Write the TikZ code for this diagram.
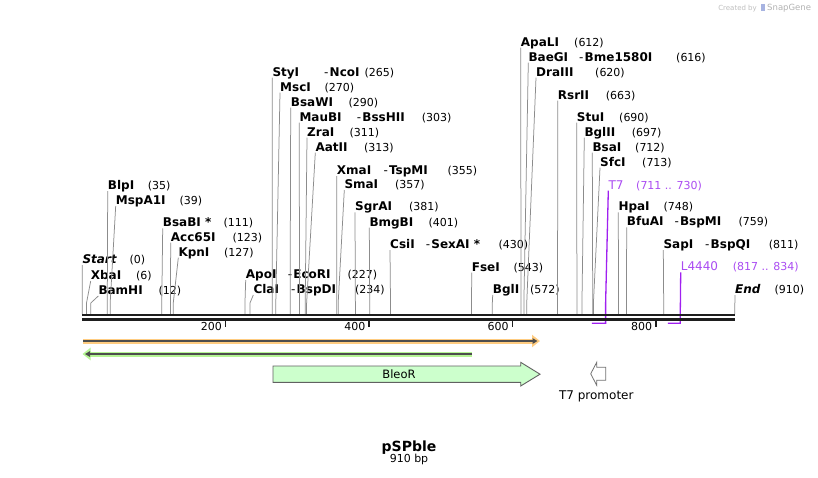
\documentclass[tikz,border=0pt]{standalone}
\usepackage{fontspec}
\setmainfont{DejaVu Sans}[BoldFont={DejaVu Sans Bold}, ItalicFont={DejaVu Sans Oblique}, BoldItalicFont={DejaVu Sans Bold Oblique}]
\usetikzlibrary{arrows.meta}

\definecolor{cutline}{HTML}{8C8C8C}
\definecolor{featline}{HTML}{A020F0}
\definecolor{feattext}{HTML}{AA4CF2}
\definecolor{orfhalo}{HTML}{FFCC80}
\definecolor{revhalo}{HTML}{B5F594}
\definecolor{orfdark}{HTML}{4D4D4D}
\definecolor{bleofill}{HTML}{CCFFCC}
\definecolor{backbone}{HTML}{1E1E1E}
\newcommand{\bp}[1]{82.2+0.717*#1}

\begin{document}
\begin{tikzpicture}[x=1pt, y=-1pt,
    enz/.style     = {anchor=base west, inner xsep=0pt, inner ysep=1.5pt, text depth=0pt, font=\fontsize{12}{14}\selectfont\bfseries},
    num/.style     = {anchor=base west, inner sep=0pt, font=\fontsize{11}{13}\selectfont},
    ends/.style    = {enz, font=\fontsize{12}{14}\selectfont\bfseries\itshape},
    feat/.style    = {enz, font=\fontsize{12}{14}\selectfont, text=feattext},
    featnum/.style = {num, text=feattext},
    cut/.style     = {draw=cutline, line width=0.75pt},
    featcut/.style = {draw=featline, line width=1.3pt},
    orfglow/.style = {draw=#1, line width=5pt, -{Triangle[length=8pt,width=12pt]}},
    orfline/.style = {draw=orfdark, line width=1.4pt, -{Triangle[length=5pt,width=5.5pt]}}]
    \path [fill=white] (0,0) rectangle (818,477);
    \useasboundingbox (0,0) rectangle (818,477);

    % Sites on the sequence
    \coordinate (start-s)  at ({\bp{0}},314);
    \coordinate (xbai-s)   at ({\bp{6}},314);
    \coordinate (bamhi-s)  at ({\bp{12}},314);
    \coordinate (blpi-s)   at ({\bp{35}},314);
    \coordinate (mspa1i-s) at ({\bp{39}},314);
    \coordinate (bsabi-s)  at ({\bp{111}},314);
    \coordinate (acc65i-s) at ({\bp{123}},314);
    \coordinate (kpni-s)   at ({\bp{127}},314);
    \coordinate (apoi-s)   at ({\bp{227}},314);
    \coordinate (clai-s)   at ({\bp{234}},314);
    \coordinate (styi-s)   at ({\bp{265}},314);
    \coordinate (msci-s)   at ({\bp{270}},314);
    \coordinate (bsawi-s)  at ({\bp{290}},314);
    \coordinate (maubi-s)  at ({\bp{303}},314);
    \coordinate (zrai-s)   at ({\bp{311}},314);
    \coordinate (aatii-s)  at ({\bp{313}},314);
    \coordinate (xmai-s)   at ({\bp{355}},314);
    \coordinate (smai-s)   at ({\bp{357}},314);
    \coordinate (sgrai-s)  at ({\bp{381}},314);
    \coordinate (bmgbi-s)  at ({\bp{401}},314);
    \coordinate (csii-s)   at ({\bp{430}},314);
    \coordinate (fsei-s)   at ({\bp{543}},314);
    \coordinate (bgli-s)   at ({\bp{572}},314);
    \coordinate (apali-s)  at ({\bp{612}},314);
    \coordinate (baegi-s)  at ({\bp{616}},314);
    \coordinate (draiii-s) at ({\bp{620}},314);
    \coordinate (rsrii-s)  at ({\bp{663}},314);
    \coordinate (stui-s)   at ({\bp{690}},314);
    \coordinate (bglii-s)  at ({\bp{697}},314);
    \coordinate (bsai-s)   at ({\bp{712}},314);
    \coordinate (sfci-s)   at ({\bp{713}},314);
    \coordinate (hpai-s)   at ({\bp{748}},314);
    \coordinate (bfuai-s)  at ({\bp{759}},314);
    \coordinate (sapi-s)   at ({\bp{811}},314);
    \coordinate (stop-s)   at ({\bp{910}},314);
    \coordinate (t7-a)     at ({\bp{711}},323.3);
    \coordinate (t7-b)     at ({\bp{730}},323.3);
    \coordinate (l4440-a)  at ({\bp{817}},323.3);
    \coordinate (l4440-b)  at ({\bp{834}},323.3);

    % Labels {name, second name, number}
    \node [ends] (start)    at (82.3,263.3)  {Start};
    \node [num]  (start-n)  at (129.3,263.3) {(0)};
    \node [enz]  (xbai)     at (90.7,279.3)  {XbaI};
    \node [num]  (xbai-n)   at (136,279.3)   {(6)};
    \node [enz]  (bamhi)    at (98.3,294.3)  {BamHI};
    \node [num]  (bamhi-n)  at (158.3,294.3) {(12)};
    \node [enz]  (blpi)     at (107.7,189.3) {BlpI};
    \node [num]  (blpi-n)   at (147.7,189.3) {(35)};
    \node [enz]  (mspa1i)   at (115.7,204.3) {MspA1I};
    \node [num]  (mspa1i-n) at (179.3,204.3) {(39)};
    \node [enz]  (bsabi)    at (162.7,226.7) {BsaBI *};
    \node [num]  (bsabi-n)  at (223.3,226.7) {(111)};
    \node [enz]  (acc65i)   at (170.7,241)   {Acc65I};
    \node [num]  (acc65i-n) at (232.3,241)   {(123)};
    \node [enz]  (kpni)     at (178.3,256)   {KpnI};
    \node [num]  (kpni-n)   at (224,256)     {(127)};
    \node [enz]  (apoi)     at (245.7,278.3) {ApoI};
    \node [enz]  (apoi-2)   at (287.7,278.3) {\mdseries-\hspace{1.2pt}\bfseries EcoRI};
    \node [num]  (apoi-n)   at (347.3,278.3) {(227)};
    \node [enz]  (clai)     at (253.3,293.3) {ClaI};
    \node [enz]  (clai-2)   at (291,293.3)   {\mdseries-\hspace{1.2pt}\bfseries BspDI};
    \node [num]  (clai-n)   at (355,293.3)   {(234)};
    \node [enz]  (styi)     at (272.3,76)    {StyI};
    \node [enz]  (styi-2)   at (324,76)      {\mdseries-\hspace{1.2pt}\bfseries NcoI};
    \node [num]  (styi-n)   at (364.3,76)    {(265)};
    \node [enz]  (msci)     at (280,91)      {MscI};
    \node [num]  (msci-n)   at (324.3,91)    {(270)};
    \node [enz]  (bsawi)    at (290.7,106)   {BsaWI};
    \node [num]  (bsawi-n)  at (348.3,106)   {(290)};
    \node [enz]  (maubi)    at (299.3,121)   {MauBI};
    \node [enz]  (maubi-2)  at (356.7,121)   {\mdseries-\hspace{1.2pt}\bfseries BssHII};
    \node [num]  (maubi-n)  at (421.7,121)   {(303)};
    \node [enz]  (zrai)     at (307,136)     {ZraI};
    \node [num]  (zrai-n)   at (349.3,136)   {(311)};
    \node [enz]  (aatii)    at (315.3,151)   {AatII};
    \node [num]  (aatii-n)  at (364,151)     {(313)};
    \node [enz]  (xmai)     at (336.7,174.3) {XmaI};
    \node [enz]  (xmai-2)   at (383.3,174.3) {\mdseries-\hspace{1.2pt}\bfseries TspMI};
    \node [num]  (xmai-n)   at (447.3,174.3) {(355)};
    \node [enz]  (smai)     at (344.3,188.3) {SmaI};
    \node [num]  (smai-n)   at (395,188.3)   {(357)};
    \node [enz]  (sgrai)    at (355,210.7)   {SgrAI};
    \node [num]  (sgrai-n)  at (409,210.7)   {(381)};
    \node [enz]  (bmgbi)    at (369.3,226)   {BmgBI};
    \node [num]  (bmgbi-n)  at (428.3,226)   {(401)};
    \node [enz]  (csii)     at (390,248.3)   {CsiI};
    \node [enz]  (csii-2)   at (425.7,248.3) {\mdseries-\hspace{1.2pt}\bfseries SexAI *};
    \node [num]  (csii-n)   at (498.3,248.3) {(430)};
    \node [enz]  (fsei)     at (471.7,271)   {FseI};
    \node [num]  (fsei-n)   at (513.3,271)   {(543)};
    \node [enz]  (bgli)     at (492.7,293.3) {BglI};
    \node [num]  (bgli-n)   at (530,293.3)   {(572)};
    \node [enz]  (apali)    at (520.7,46)    {ApaLI};
    \node [num]  (apali-n)  at (574,46)      {(612)};
    \node [enz]  (baegi)    at (528.3,61)    {BaeGI};
    \node [enz]  (baegi-2)  at (579,61)      {\mdseries-\hspace{1.2pt}\bfseries Bme1580I};
    \node [num]  (baegi-n)  at (676,61)      {(616)};
    \node [enz]  (draiii)   at (536,76)      {DraIII};
    \node [num]  (draiii-n) at (595,76)      {(620)};
    \node [enz]  (rsrii)    at (557.7,99)    {RsrII};
    \node [num]  (rsrii-n)  at (605.7,99)    {(663)};
    \node [enz]  (stui)     at (576.7,121)   {StuI};
    \node [num]  (stui-n)   at (619,121)     {(690)};
    \node [enz]  (bglii)    at (584.3,136)   {BglII};
    \node [num]  (bglii-n)  at (631.7,136)   {(697)};
    \node [enz]  (bsai)     at (592.3,151)   {BsaI};
    \node [num]  (bsai-n)   at (635,151)     {(712)};
    \node [enz]  (sfci)     at (600,166)     {SfcI};
    \node [num]  (sfci-n)   at (642,166)     {(713)};
    \node [feat] (t7)       at (608.3,189)   {T7};
    \node [featnum] (t7-n)  at (636,189)     {(711 .. 730)};
    \node [enz]  (hpai)     at (618.3,210.7) {HpaI};
    \node [num]  (hpai-n)   at (663.3,210.7) {(748)};
    \node [enz]  (bfuai)    at (626.7,225.7) {BfuAI};
    \node [enz]  (bfuai-2)  at (674.3,225.7) {\mdseries-\hspace{1.2pt}\bfseries BspMI};
    \node [num]  (bfuai-n)  at (738.3,225.7) {(759)};
    \node [enz]  (sapi)     at (663.3,248.3) {SapI};
    \node [enz]  (sapi-2)   at (705,248.3)   {\mdseries-\hspace{1.2pt}\bfseries BspQI};
    \node [num]  (sapi-n)   at (768.7,248.3) {(811)};
    \node [feat] (l4440)    at (680.7,270.7) {L4440};
    \node [featnum] (l4440-n) at (732.7,270.7) {(817 .. 834)};
    \node [ends] (stop)     at (735,293.3)   {End};
    \node [num]  (stop-n)   at (774.3,293.3) {(910)};

    % Cut lines
    \draw [cut] (start-s)  -- (start.south west);
    \draw [cut] (xbai-s)   -- ++(0,-11) -- (xbai.south west);
    \draw [cut] (bamhi-s)  -- ++(0,-11) -- (bamhi.south west);
    \draw [cut] (blpi-s)   -- ++(0,-11) -- (blpi.south west);
    \draw [cut] (mspa1i-s) -- ++(0,-11) -- (mspa1i.south west);
    \draw [cut] (bsabi-s)  -- ++(0,-11) -- (bsabi.south west);
    \draw [cut] (acc65i-s) -- ++(0,-11) -- (acc65i.south west);
    \draw [cut] (kpni-s)   -- ++(0,-11) -- (kpni.south west);
    \draw [cut] (apoi-s)   -- ++(0,-11) -- (apoi.south west);
    \draw [cut] (clai-s)   -- ++(0,-11) -- (clai.south west);
    \draw [cut] (styi-s)   -- ++(0,-11) -- (styi.south west);
    \draw [cut] (msci-s)   -- ++(0,-11) -- (msci.south west);
    \draw [cut] (bsawi-s)  -- ++(0,-11) -- (bsawi.south west);
    \draw [cut] (maubi-s)  -- ++(0,-11) -- (maubi.south west);
    \draw [cut] (zrai-s)   -- ++(0,-11) -- (zrai.south west);
    \draw [cut] (aatii-s)  -- ++(0,-11) -- (aatii.south west);
    \draw [cut] (xmai-s)   -- ++(0,-11) -- (xmai.south west);
    \draw [cut] (smai-s)   -- ++(0,-11) -- (smai.south west);
    \draw [cut] (sgrai-s)  -- ++(0,-11) -- (sgrai.south west);
    \draw [cut] (bmgbi-s)  -- ++(0,-11) -- (bmgbi.south west);
    \draw [cut] (csii-s)   -- ++(0,-11) -- (csii.south west);
    \draw [cut] (fsei-s)   -- ++(0,-11) -- (fsei.south west);
    \draw [cut] (bgli-s)   -- ++(0,-11) -- (bgli.south west);
    \draw [cut] (apali-s)  -- ++(0,-11) -- (apali.south west);
    \draw [cut] (baegi-s)  -- ++(0,-11) -- (baegi.south west);
    \draw [cut] (draiii-s) -- ++(0,-11) -- (draiii.south west);
    \draw [cut] (rsrii-s)  -- ++(0,-11) -- (rsrii.south west);
    \draw [cut] (stui-s)   -- ++(0,-11) -- (stui.south west);
    \draw [cut] (bglii-s)  -- ++(0,-11) -- (bglii.south west);
    \draw [cut] (bsai-s)   -- ++(0,-11) -- (bsai.south west);
    \draw [cut] (sfci-s)   -- ++(0,-11) -- (sfci.south west);
    \draw [cut] (hpai-s)   -- ++(0,-11) -- (hpai.south west);
    \draw [cut] (bfuai-s)  -- ++(0,-11) -- (bfuai.south west);
    \draw [cut] (sapi-s)   -- ++(0,-11) -- (sapi.south west);
    \draw [cut] (stop-s)   -- (stop.south west);

    % Features on the sequence
    \draw [featcut] (t7-a) -- (t7-b) -- ++(0,-20) -- (t7.south west);
    \draw [featcut] (l4440-a) -- (l4440-b) -- (l4440.south west);

    % Sequence and scale
    \coordinate (seq-a) at (82.2,315.2);
    \coordinate (seq-b) at (734.7,315.2);
    \coordinate (seq-c) at (82.2,319.6);
    \coordinate (seq-d) at (734.7,319.6);
    \draw [backbone, line width=2.4pt] (seq-a) -- (seq-b);
    \draw [backbone, line width=2.4pt] (seq-c) -- (seq-d);
    \foreach \t in {200,400,600,800} {
        \draw [backbone, line width=1.5pt] ({\bp{\t}},320) -- ({\bp{\t}},327);
        \node [num, anchor=base east] (tick\t) at ({\bp{\t}-3.5},330.7) {\t};
    }

    % ORFs
    \coordinate (orf-a) at (83,341);
    \coordinate (orf-b) at (540,341);
    \coordinate (rev-a) at (472,354);
    \coordinate (rev-b) at (82.5,354);
    \draw [orfglow=orfhalo] (orf-a) -- (orf-b);
    \draw [orfline, shorten >=2.5pt] (orf-a) -- (orf-b);
    \draw [orfglow=revhalo] (rev-a) -- (rev-b);
    \draw [orfline, shorten >=2.5pt] (rev-a) -- (rev-b);

    % BleoR and T7 promoter
    \draw [fill=bleofill, draw=black!62, line width=0.9pt]
        (273,366) -- (520.7,366) -- (520.7,362.3) -- (540,374.2)
        -- (520.7,386) -- (520.7,382.3) -- (273,382.3) -- cycle;
    \node [num, anchor=center, font=\fontsize{11.5}{13}\selectfont] (bleor) at (399,374.2) {BleoR};
    \draw [fill=white, draw=black!55, line width=0.8pt]
        (605.7,367.3) -- (596.7,367.3) -- (596.7,362.3) -- (590.7,373.8)
        -- (596.7,385.3) -- (596.7,380.3) -- (605.7,380.3) -- cycle;
    \node [num, anchor=base, font=\fontsize{12}{14}\selectfont] (t7prom) at (596.3,399.3) {T7 promoter};

    % Title
    \node [anchor=base, font=\fontsize{14}{16}\selectfont\bfseries] (title) at (409,451) {pSPble};
    \node [num, anchor=base] (size) at (409,462.7) {910 bp};

    % Watermark
    \node [anchor=base east, inner sep=0pt, text=black!25, font=\fontsize{7}{8}\selectfont] (created) at (757,10) {Created by};
    \fill [fill=cyan!35!blue!35] (761,3.5) rectangle (764.5,11);
    \node [anchor=base west, inner sep=0pt, text=black!30, font=\fontsize{8.5}{9}\selectfont] (snapgene) at (767,10.5) {SnapGene};
\end{tikzpicture}
\end{document}
